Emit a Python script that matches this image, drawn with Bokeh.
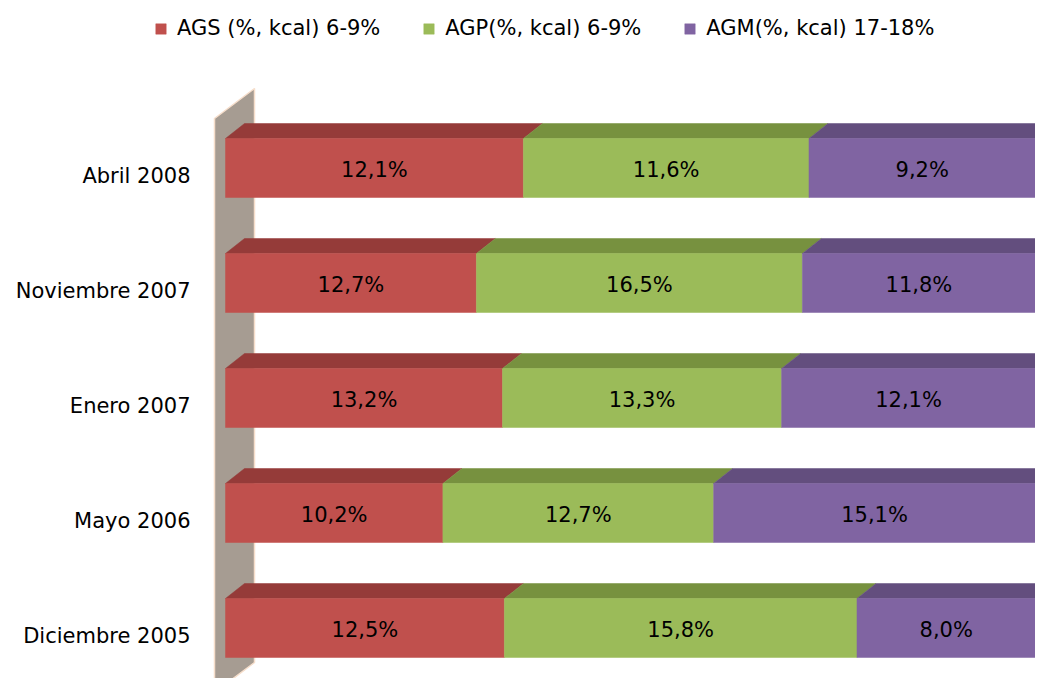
from bokeh.plotting import figure
from bokeh.models import ColumnDataSource, Range1d, Legend, LegendItem
from bokeh.core.properties import value
from bokeh.embed import file_html
from bokeh.resources import INLINE

categories = ["Diciembre 2005", "Mayo 2006", "Enero 2007", "Noviembre 2007", "Abril 2008"]
series_names = ["AGS (%, kcal) 6-9%", "AGP(%, kcal) 6-9%", "AGM(%, kcal) 17-18%"]
ags = [12.5, 10.2, 13.2, 12.7, 12.1]
agp = [15.8, 12.7, 13.3, 16.5, 11.6]
agm = [8.0, 15.1, 12.1, 11.8, 9.2]

front_colors = ["#C0504D", "#9BBB59", "#8064A2"]
top_colors = ["#953B39", "#77913F", "#634E7E"]
side_color = "#4E3D66"
wall_color = "#A69C92"
wall_edge = "#F6DECB"

FONT = "DejaVu Sans"
FS = "21px"
W, H = 1035, 678
PX_X = 8.1       # pixels per percent
PX_Y = 115.0     # pixels per category
x0_px = 225.0    # pixel of 0 %
y0_px = 627.5    # pixel of first category centre (from top)

x_start = -x0_px / PX_X
x_end = (W - x0_px) / PX_X
y_start = -(H - y0_px) / PX_Y
y_end = y0_px / PX_Y

p = figure(width=W, height=H, output_backend="svg", toolbar_location=None,
           x_range=Range1d(x_start, x_end), y_range=Range1d(y_start, y_end),
           min_border=0, outline_line_color=None)
p.axis.visible = False
p.grid.visible = False
p.background_fill_color = "white"
p.border_fill_color = "white"

bar_h = 59 / PX_Y
dx = 19 / PX_X
dy = 15 / PX_Y

# wall (left side panel)
wdx = 40 / PX_X
wdy = 30 / PX_Y
wl = (214 - x0_px) / PX_X
wb = (y0_px - 692) / PX_Y
wt = (y0_px - 118) / PX_Y
p.patch([wl, wl + wdx, wl + wdx, wl], [wb, wb + wdy, wt + wdy, wt],
        fill_color=wall_color, line_color=wall_edge, line_width=1.5)

n = len(categories)
ys = list(range(n))
series = [ags, agp, agm]
totals = [sum(s[i] for s in series) for i in range(n)]
pct = [[s[i] / totals[i] * 100 for i in range(n)] for s in series]

lefts = [0.0] * n
renderers = []
for k in range(3):
    L = lefts[:]
    R = [L[i] + pct[k][i] for i in range(n)]
    txs, tys = [], []
    for i in range(n):
        top = ys[i] + bar_h / 2
        txs.append([L[i], R[i], R[i] + dx, L[i] + dx])
        tys.append([top, top, top + dy, top + dy])
    p.patches(txs, tys, fill_color=top_colors[k], line_color=top_colors[k], line_width=0.5)
    src = ColumnDataSource(dict(y=ys, left=L, right=R,
                                mid=[(L[i] + R[i]) / 2 for i in range(n)],
                                lab=[f"{series[k][i]:.1f}%".replace(".", ",") for i in range(n)]))
    r = p.hbar(y="y", left="left", right="right", height=bar_h, source=src,
               fill_color=front_colors[k], line_color=front_colors[k], line_width=0.5)
    renderers.append(r)
    p.text(x="mid", y="y", text="lab", source=src, text_align="center", text_baseline="middle",
           y_offset=2, text_font=value(FONT), text_font_size=FS, text_color="black")
    lefts = R

# right side faces
sxs, sys_ = [], []
for i in range(n):
    b = ys[i] - bar_h / 2
    t = ys[i] + bar_h / 2
    sxs.append([100, 100 + dx, 100 + dx, 100])
    sys_.append([b, b + dy, t + dy, t])
p.patches(sxs, sys_, fill_color=side_color, line_color=side_color)

# category labels
lab_x = (190 - x0_px) / PX_X
csrc = ColumnDataSource(dict(x=[lab_x] * n, y=ys, t=categories))
p.text(x="x", y="y", text="t", source=csrc, text_align="right", text_baseline="middle",
       y_offset=8, text_font=value(FONT), text_font_size=FS, text_color="black")

legend = Legend(items=[LegendItem(label=series_names[k], renderers=[renderers[k]]) for k in range(3)],
                orientation="horizontal", location=(154, H - 40), spacing=42,
                glyph_width=13, glyph_height=13, label_standoff=10,
                label_text_font=FONT, label_text_font_size=FS, label_text_color="black",
                border_line_color=None, background_fill_alpha=0, padding=0, margin=0)
p.add_layout(legend)

open("out.html", "w").write(file_html(p, INLINE))
